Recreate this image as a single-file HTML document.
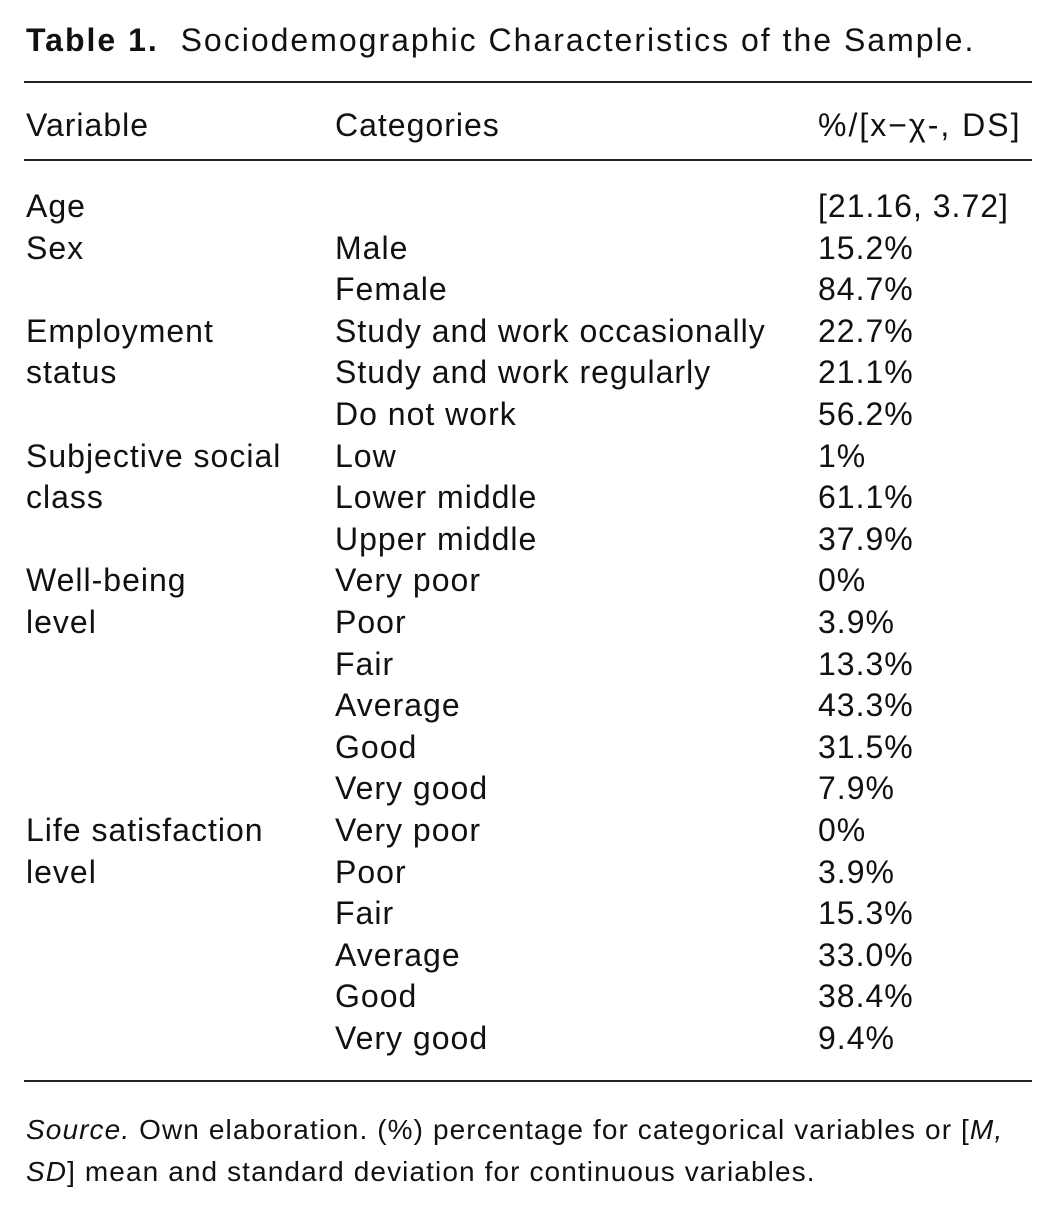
<!DOCTYPE html>
<html><head><meta charset="utf-8"><style>
body{margin:0;background:#fff;width:1058px;height:1215px;overflow:hidden;font-family:"Liberation Sans",sans-serif;color:#111;position:relative}
.t{position:absolute;white-space:nowrap;font-size:32px;line-height:42px;letter-spacing:1px}
.rule{position:absolute;left:24px;width:1008px;height:2px;background:#222}
.c1{left:26px}.c2{left:335px}.c3{left:818px}
</style></head><body>
<div class="t" style="left:26px;top:19px;font-size:32px;letter-spacing:2px"><b>Table 1.</b>&nbsp; Sociodemographic Characteristics of the Sample.</div>
<div class="rule" style="top:81px"></div>
<div class="t c1" style="top:104px">Variable</div>
<div class="t c2" style="top:104px">Categories</div>
<div class="t c3" style="top:104px;letter-spacing:2px">%/[x&minus;&chi;-, DS]</div>
<div class="rule" style="top:159px;height:1.5px"></div>
<div style="position:absolute;left:0;top:185px;width:1058px">
<div class="t c1" style="top:0">Age</div><div class="t c3" style="top:0">[21.16, 3.72]</div>
<div class="t c1" style="top:41.6px">Sex</div><div class="t c2" style="top:41.6px">Male</div><div class="t c3" style="top:41.6px">15.2%</div>
<div class="t c2" style="top:83.2px">Female</div><div class="t c3" style="top:83.2px">84.7%</div>
<div class="t c1" style="top:124.8px">Employment</div><div class="t c2" style="top:124.8px">Study and work occasionally</div><div class="t c3" style="top:124.8px">22.7%</div>
<div class="t c1" style="top:166.4px">status</div><div class="t c2" style="top:166.4px">Study and work regularly</div><div class="t c3" style="top:166.4px">21.1%</div>
<div class="t c2" style="top:208px">Do not work</div><div class="t c3" style="top:208px">56.2%</div>
<div class="t c1" style="top:249.6px">Subjective social</div><div class="t c2" style="top:249.6px">Low</div><div class="t c3" style="top:249.6px">1%</div>
<div class="t c1" style="top:291.2px">class</div><div class="t c2" style="top:291.2px">Lower middle</div><div class="t c3" style="top:291.2px">61.1%</div>
<div class="t c2" style="top:332.8px">Upper middle</div><div class="t c3" style="top:332.8px">37.9%</div>
<div class="t c1" style="top:374.4px">Well-being</div><div class="t c2" style="top:374.4px">Very poor</div><div class="t c3" style="top:374.4px">0%</div>
<div class="t c1" style="top:416px">level</div><div class="t c2" style="top:416px">Poor</div><div class="t c3" style="top:416px">3.9%</div>
<div class="t c2" style="top:457.6px">Fair</div><div class="t c3" style="top:457.6px">13.3%</div>
<div class="t c2" style="top:499.2px">Average</div><div class="t c3" style="top:499.2px">43.3%</div>
<div class="t c2" style="top:540.8px">Good</div><div class="t c3" style="top:540.8px">31.5%</div>
<div class="t c2" style="top:582.4px">Very good</div><div class="t c3" style="top:582.4px">7.9%</div>
<div class="t c1" style="top:624px">Life satisfaction</div><div class="t c2" style="top:624px">Very poor</div><div class="t c3" style="top:624px">0%</div>
<div class="t c1" style="top:665.6px">level</div><div class="t c2" style="top:665.6px">Poor</div><div class="t c3" style="top:665.6px">3.9%</div>
<div class="t c2" style="top:707.2px">Fair</div><div class="t c3" style="top:707.2px">15.3%</div>
<div class="t c2" style="top:748.8px">Average</div><div class="t c3" style="top:748.8px">33.0%</div>
<div class="t c2" style="top:790.4px">Good</div><div class="t c3" style="top:790.4px">38.4%</div>
<div class="t c2" style="top:832px">Very good</div><div class="t c3" style="top:832px">9.4%</div>
</div>
<div class="rule" style="top:1080px"></div>
<div class="t c1" style="top:1109px;font-size:28px;letter-spacing:1.1px"><i>Source.</i> Own elaboration. (%) percentage for categorical variables or [<i>M,</i></div>
<div class="t c1" style="top:1151px;font-size:28px;letter-spacing:1.1px"><i>SD</i>] mean and standard deviation for continuous variables.</div>
</body></html>
